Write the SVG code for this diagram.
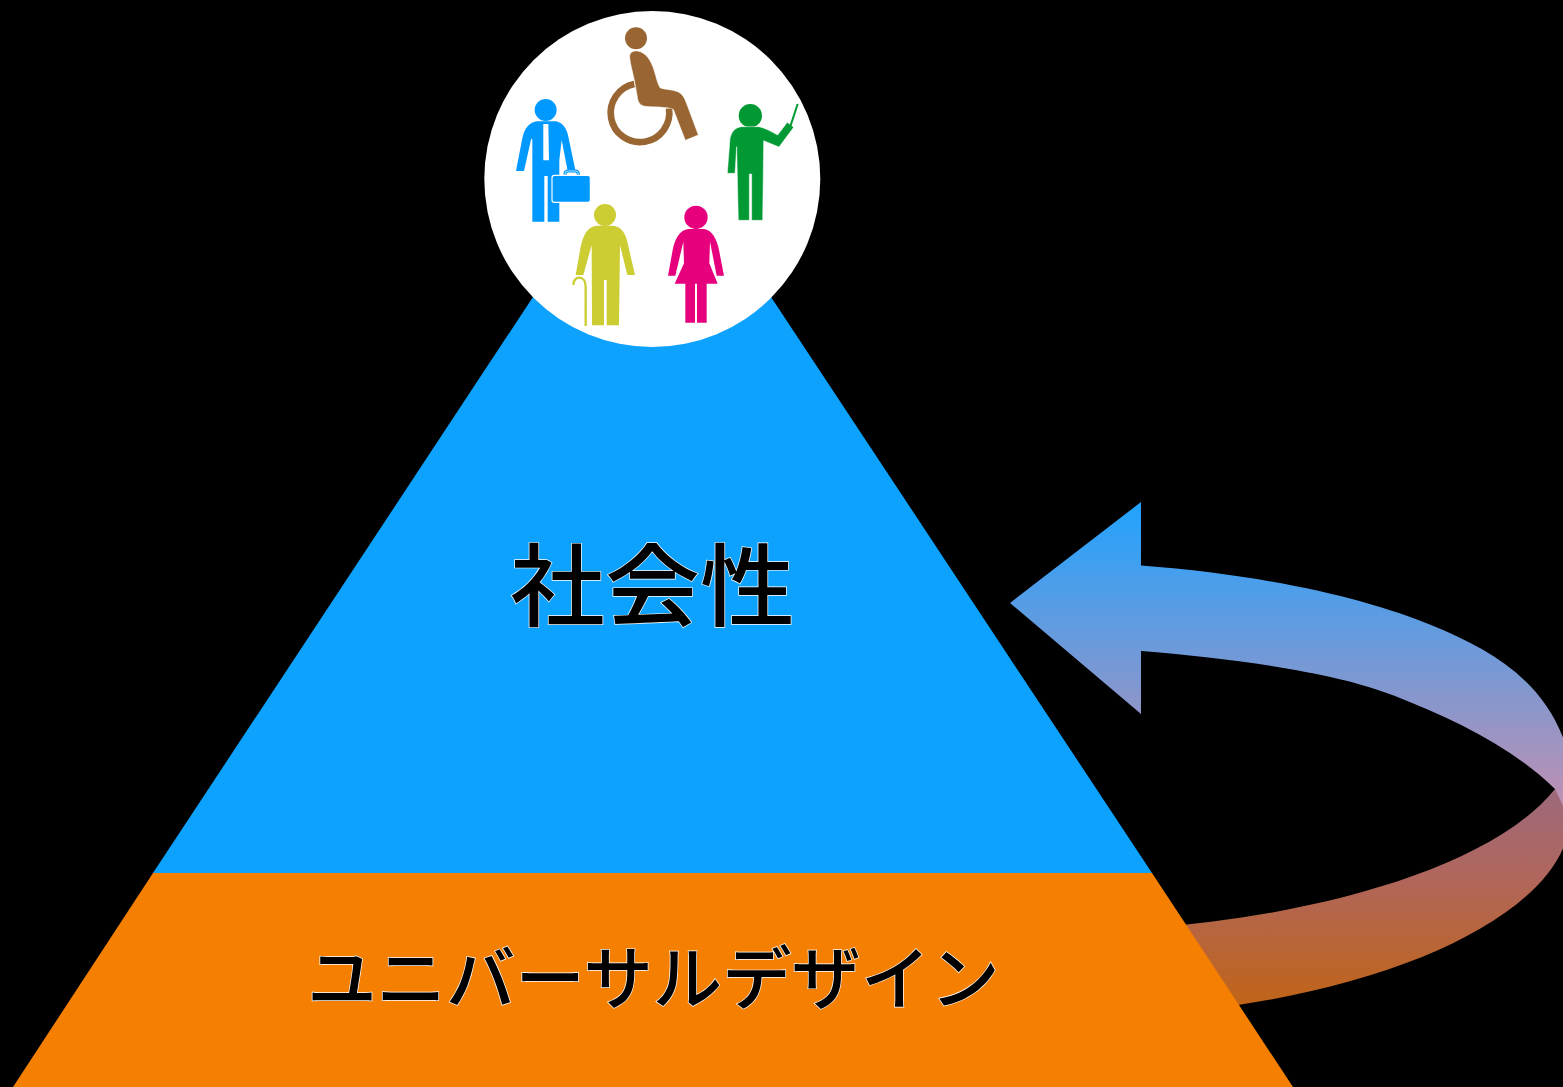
<svg xmlns="http://www.w3.org/2000/svg" width="1563" height="1087" viewBox="0 0 1563 1087">
<style>
.t{font-family:"Noto Sans CJK JP","Noto Sans CJK SC",sans-serif;font-weight:500;fill:#000;stroke:#fff;stroke-width:1.4;paint-order:stroke;text-anchor:middle}
.o{stroke:#fff;stroke-width:1.5}
</style>
<defs>
<linearGradient id="gu" gradientUnits="userSpaceOnUse" x1="0" y1="502" x2="0" y2="804">
<stop offset="0" stop-color="#20a3ff"/><stop offset="1" stop-color="#bf90b2"/>
</linearGradient>
<linearGradient id="gl" gradientUnits="userSpaceOnUse" x1="0" y1="790" x2="0" y2="1004">
<stop offset="0" stop-color="#9c6a7c"/><stop offset="0.4" stop-color="#b0665c"/><stop offset="1" stop-color="#c06418"/>
</linearGradient>
</defs>
<rect width="1563" height="1087" fill="#000"/>
<g id="connectors">
<path id="arrow-lower" fill="url(#gl)" d="M1150 928C1310 916 1490 870 1555 789L1570 806C1580 900 1420 985 1200 1010Z"/>
<path id="arrow-upper" fill="url(#gu)" d="M1010 603L1141 502V565.5C1270 575 1370 600 1431 625C1495 651 1552 685 1570 760V810L1563 806L1555 789C1510 745 1450 718 1395 696C1335 672 1230 658 1141 651V714Z"/>
</g>
<g id="pyramid-blue"><polygon fill="#0ea2ff" points="153,873 533,297 653,240 771,297 1152,873"/></g>
<g id="pyramid-orange"><polygon fill="#f57f00" points="13,1087 153,873 1152,873 1293,1087"/></g>
<g id="circle"><circle cx="652.300" cy="179" r="168" fill="#fff"/></g>
<g transform="translate(480 0) scale(.33333)">
<g id="wheelchair" fill="#996633">
<circle cx="468" cy="115" r="33"/>
<path d="M463 252A88 88 0 1 0 567 325" fill="none" stroke="#996633" stroke-width="20"/>
<path class="o" d="M449 172C448 158 458 152 472 153C498 157 512 180 522 210C529 232 532 250 540 263C552 269 578 268 595 276C606 282 613 292 618 306L655 405L616 421L580 328C565 320 520 322 495 319C478 315 474 306 472 290L463 240C458 215 451 195 449 172Z"/>
</g>
<g id="businessman" fill="#0099ff">
<circle cx="197" cy="330" r="33"/>
<path d="M108 513L127 415C133 385 148 368 170 364H228C248 368 260 385 265 410L286 510L263 513L245 420L238 480V665H203V528H193V665H157V420L154 415L132 513Z"/>
<path d="M190 372H205L207 481H190Z" fill="#fff"/>
<path d="M255 527V522Q255 513 265 513H285Q295 513 295 522V527" fill="none" stroke="#0099ff" stroke-width="9"/>
<path d="M255 527V522Q255 513 265 513H285Q295 513 295 522V527" fill="none" stroke="#fff" stroke-width="2"/>
<rect x="216" y="526" width="115" height="81" rx="7" stroke="#fff" stroke-width="3.500"/>
</g>
<g id="teacher" fill="#009933">
<circle cx="811" cy="347" r="35"/>
<path class="o" d="M742 520L750 415C755 395 765 382 785 380H835C850 382 875 395 893 405L922 367L941 382L897 441L851 422L848 661H815V522H808V661H775L770 440L765 520Z"/>
<path d="M930 382L953 312" fill="none" stroke="#009933" stroke-width="6"/>
</g>
<g id="elder" fill="#cccc33">
<circle cx="375" cy="645" r="33"/>
<path d="M287 825L302 740C310 705 322 680 350 677H400C425 680 437 700 443 730L465 825H442L420 735L417 976H380V840H372V976H336L335 735L310 825Z"/>
<path d="M317 978V860C317 825 280 825 280 855" fill="none" stroke="#cccc33" stroke-width="7"/>
</g>
<g id="woman" fill="#e6007e">
<circle cx="648" cy="652" r="35"/>
<path d="M564 827L578 750C585 715 600 690 625 687H672C695 690 710 715 717 750L732 827H710L690 725L688 790L713 851H680V968H651V851H645V968H616V851H584L612 790L610 725L586 827Z"/>
</g>
</g>
<g id="label-social"><text class="t" transform="translate(652.500 619) scale(1 .94)" font-size="95">社会性</text></g>
<g id="label-ud"><text class="t" x="653.500" y="1004" font-size="69.400">ユニバーサルデザイン</text></g>
</svg>
